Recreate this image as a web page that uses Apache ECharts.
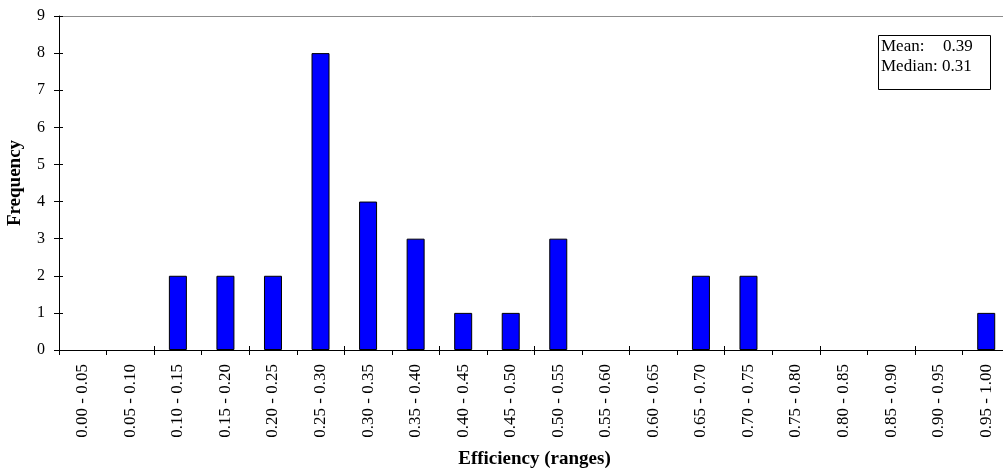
<!DOCTYPE html>
<html>
<head>
<meta charset="utf-8">
<script src="https://cdn.jsdelivr.net/npm/echarts@6/dist/echarts.min.js"></script>
<style>html,body{margin:0;padding:0;background:#fff}#c{width:1003px;height:472px}</style>
</head>
<body>
<div id="c"></div>
<script>
const categories = ['0.00 - 0.05','0.05 - 0.10','0.10 - 0.15','0.15 - 0.20','0.20 - 0.25','0.25 - 0.30','0.30 - 0.35','0.35 - 0.40','0.40 - 0.45','0.45 - 0.50','0.50 - 0.55','0.55 - 0.60','0.60 - 0.65','0.65 - 0.70','0.70 - 0.75','0.75 - 0.80','0.80 - 0.85','0.85 - 0.90','0.90 - 0.95','0.95 - 1.00'];
const frequency = [0,0,2,2,2,8,4,3,1,1,3,0,0,2,2,0,0,0,0,1];
const yTicks = [0,1,2,3,4,5,6,7,8,9];
const meanValue = '0.39';
const medianValue = '0.31';

const font = '"Liberation Serif", "DejaVu Serif", serif';
const chart = echarts.init(document.getElementById('c'));
chart.setOption({
  animation: false,
  grid: {left: 59, top: 16, right: -7, bottom: 122, outerBoundsMode: 'none', containLabel: false},
  xAxis: [{
    type: 'category', data: categories,
    name: 'Efficiency (ranges)', nameLocation: 'middle', nameGap: 100,
    nameTextStyle: {fontFamily: font, fontSize: 19, fontWeight: 'bold', color: '#000'},
    axisLine: {lineStyle: {color: '#000', width: 1}},
    axisTick: {show: true, length: 5, lineStyle: {color: '#000'}},
    axisLabel: {rotate: 90, fontFamily: font, fontSize: 17, color: '#000', margin: 14, interval: 0},
    splitLine: {show: false}
  }, {
    type: 'category', data: categories, position: 'bottom',
    axisLine: {show: false},
    axisTick: {show: true, inside: true, length: 4, lineStyle: {color: '#000'}},
    axisLabel: {show: false}
  }, {
    type: 'category', data: categories, position: 'top',
    axisLine: {show: true, lineStyle: {color: '#8c8c8c', width: 1}},
    axisTick: {show: false}, axisLabel: {show: false}
  }],
  yAxis: [{
    type: 'value', min: yTicks[0], max: yTicks[yTicks.length - 1], interval: 1,
    name: 'Frequency', nameLocation: 'middle', nameGap: 34,
    nameTextStyle: {fontFamily: font, fontSize: 19, fontWeight: 'bold', color: '#000'},
    axisLine: {show: true, lineStyle: {color: '#000', width: 1}},
    axisTick: {show: true, length: 5, lineStyle: {color: '#000'}},
    axisLabel: {fontFamily: font, fontSize: 16, color: '#000', margin: 14},
    splitLine: {show: false}
  }, {
    type: 'value', min: yTicks[0], max: yTicks[yTicks.length - 1], interval: 1, position: 'left',
    axisLine: {show: false},
    axisTick: {show: true, inside: true, length: 4, lineStyle: {color: '#000'}},
    axisLabel: {show: false}, splitLine: {show: false}
  }],
  series: [{
    type: 'bar', data: frequency.map(v => v === 0 ? '-' : v), barWidth: 18,
    itemStyle: {color: '#0000ff', borderColor: '#000', borderWidth: 1}
  }],
  graphic: [
    {type: 'rect', left: 878, top: 35, shape: {width: 112, height: 54},
     style: {fill: '#fff', stroke: '#000', lineWidth: 1}},
    {type: 'text', left: 881, top: 38, style: {text: 'Mean:', font: '17px ' + font, fill: '#000'}},
    {type: 'text', left: 943, top: 38, style: {text: meanValue, font: '17px ' + font, fill: '#000'}},
    {type: 'text', left: 881, top: 58, style: {text: 'Median: ' + medianValue, font: '17px ' + font, fill: '#000'}}
  ]
});
</script>
</body>
</html>
